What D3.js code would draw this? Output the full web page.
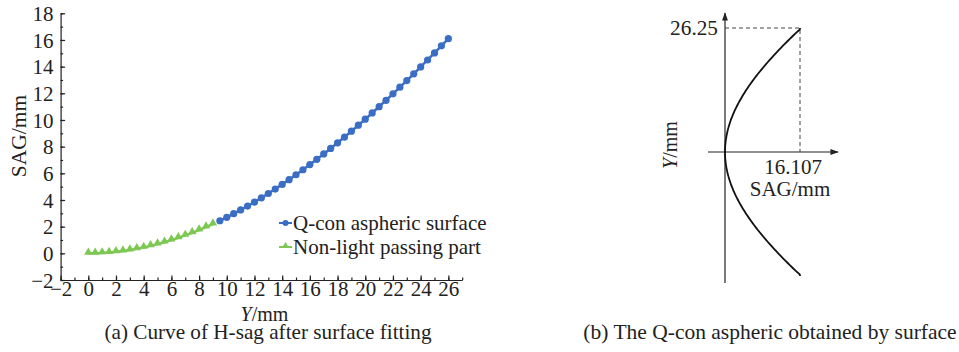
<!DOCTYPE html>
<html>
<head>
<meta charset="utf-8">
<script src="https://cdn.jsdelivr.net/npm/d3@7"></script>
<style>
  body { margin: 0; background: #fff; }
  svg { display: block; }
  text { font-family: "Liberation Serif", "Times New Roman", serif; fill: #222; }
</style>
</head>
<body>
<svg id="canvas" width="959" height="352"></svg>
<script>
// non-light passing part (green triangles), Y in mm
const greenY = [0, 0.5, 1, 1.5, 2, 2.5, 3, 3.5, 4, 4.5, 5, 5.5, 6, 6.5, 7, 7.5, 8, 8.5, 9];
const greenSag = [0, 0.007, 0.028, 0.062, 0.111, 0.173, 0.249, 0.339, 0.442, 0.559, 0.690, 0.833,
  0.990, 1.160, 1.342, 1.538, 1.746, 1.967, 2.200];

// Q-con aspheric surface (blue dots)
const blueY = [9.5, 10, 10.5, 11, 11.5, 12, 12.5, 13, 13.5, 14, 14.5, 15, 15.5, 16, 16.5, 17, 17.5,
  18, 18.5, 19, 19.5, 20, 20.5, 21, 21.5, 22, 22.5, 23, 23.5, 24, 24.5, 25, 25.5, 26];
const blueSag = [2.445, 2.702, 2.971, 3.252, 3.544, 3.847, 4.161, 4.486, 4.822, 5.168, 5.525, 5.891,
  6.267, 6.653, 7.049, 7.453, 7.867, 8.289, 8.720, 9.160, 9.607, 10.063, 10.527, 10.998, 11.477,
  11.964, 12.457, 12.957, 13.464, 13.978, 14.499, 15.025, 15.558, 16.097];

const xTicks = [-2, 0, 2, 4, 6, 8, 10, 12, 14, 16, 18, 20, 22, 24, 26];
const yTicks = [-2, 0, 2, 4, 6, 8, 10, 12, 14, 16, 18];

// edge of the surface, shown in panel (b)
const edgeY = 26.25;
const edgeSag = 16.107;

const blue = '#3a6ec4';
const green = '#7cc852';
const ink = '#222';

let canvas = d3.select('#canvas');

// ---------- panel (a) ----------
let x = d3.scaleLinear().domain([-2, 27]).range([60.6, 462.2]);
let y = d3.scaleLinear().domain([-2, 18]).range([280, 13.3]);

let gA = canvas.append('g');

// minor ticks every 1 mm
gA.append('g')
  .attr('transform', `translate(0,${y(-2)})`)
  .call(d3.axisBottom(x).tickValues(d3.range(-2, 28, 1)).tickSizeInner(-2.5).tickSizeOuter(0).tickFormat(''))
  .call(g => g.select('.domain').remove());
gA.append('g')
  .attr('transform', `translate(${x(-2)},0)`)
  .call(d3.axisLeft(y).tickValues(d3.range(-2, 19, 1)).tickSizeInner(-2.5).tickSizeOuter(0).tickFormat(''))
  .call(g => g.select('.domain').remove());

let xAxis = gA.append('g')
  .attr('transform', `translate(0,${y(-2)})`)
  .call(d3.axisBottom(x).tickValues(xTicks).tickSizeInner(-4.5).tickSizeOuter(0).tickPadding(2));
let yAxis = gA.append('g')
  .attr('transform', `translate(${x(-2)},0)`)
  .call(d3.axisLeft(y).tickValues(yTicks).tickSizeInner(-4.5).tickSizeOuter(0).tickPadding(7));

gA.selectAll('.tick line, .domain').attr('stroke', ink).attr('stroke-width', 1.2);
xAxis.selectAll('text').attr('font-size', 21).attr('font-family', null).attr('dy', '0.68em');
yAxis.selectAll('text').attr('font-size', 21).attr('font-family', null).attr('dy', '0.34em');

// axis titles
gA.append('text')
  .attr('transform', 'translate(26,136) rotate(-90)')
  .attr('text-anchor', 'middle')
  .attr('font-size', 21.5)
  .text('SAG/mm');
let xt = gA.append('text')
  .attr('x', 264.5).attr('y', 321)
  .attr('text-anchor', 'middle')
  .attr('font-size', 20);
xt.append('tspan').attr('font-style', 'italic').text('Y');
xt.append('tspan').text('/mm');

// series
let line = d3.line().x(d => x(d[0])).y(d => y(d[1]));
let greenPts = greenY.map((v, i) => [v, greenSag[i]]);
let bluePts = blueY.map((v, i) => [v, blueSag[i]]);

gA.append('path').datum(greenPts)
  .attr('d', line).attr('fill', 'none').attr('stroke', green).attr('stroke-width', 2.5);
gA.append('path').datum(bluePts)
  .attr('d', line).attr('fill', 'none').attr('stroke', blue).attr('stroke-width', 2.5);

let tri = d3.symbol().type(d3.symbolTriangle).size(30);
gA.selectAll('.gm').data(greenPts).enter().append('path')
  .attr('class', 'gm')
  .attr('d', tri)
  .attr('transform', d => `translate(${x(d[0])},${y(d[1]) - 1})`)
  .attr('fill', green);
gA.selectAll('.bm').data(bluePts).enter().append('circle')
  .attr('class', 'bm')
  .attr('cx', d => x(d[0])).attr('cy', d => y(d[1])).attr('r', 3.6)
  .attr('fill', blue);

// legend
let legend = gA.append('g').attr('transform', 'translate(279,0)');
legend.append('line').attr('x1', 0).attr('x2', 13).attr('y1', 223).attr('y2', 223)
  .attr('stroke', blue).attr('stroke-width', 2);
legend.append('circle').attr('cx', 6.5).attr('cy', 223).attr('r', 3).attr('fill', blue);
legend.append('text').attr('x', 14).attr('y', 230).attr('font-size', 21).text('Q-con aspheric surface');
legend.append('line').attr('x1', 0).attr('x2', 13).attr('y1', 247).attr('y2', 247)
  .attr('stroke', green).attr('stroke-width', 2);
legend.append('path').attr('d', d3.symbol().type(d3.symbolTriangle).size(22))
  .attr('transform', 'translate(6.5,246)').attr('fill', green);
legend.append('text').attr('x', 14).attr('y', 254).attr('font-size', 21).text('Non-light passing part');

gA.append('text')
  .attr('x', 268).attr('y', 339)
  .attr('text-anchor', 'middle')
  .attr('font-size', 21.2)
  .text('(a) Curve of H-sag after surface fitting');

// ---------- panel (b) ----------
let sx = d3.scaleLinear().domain([0, edgeSag]).range([725, 800]);
let sy = d3.scaleLinear().domain([0, edgeY]).range([152, 28]);

let gB = canvas.append('g');

canvas.append('defs').append('marker')
  .attr('id', 'arrow')
  .attr('viewBox', '0 0 10 10')
  .attr('refX', 9).attr('refY', 5)
  .attr('markerWidth', 7).attr('markerHeight', 7)
  .attr('orient', 'auto')
  .append('path').attr('d', 'M0,1.5 L10,5 L0,8.5 Z').attr('fill', ink);

gB.append('line')
  .attr('x1', sx(0)).attr('x2', sx(0)).attr('y1', 283).attr('y2', 13)
  .attr('stroke', ink).attr('stroke-width', 1.2).attr('marker-end', 'url(#arrow)');
gB.append('line')
  .attr('x1', 708).attr('x2', 838).attr('y1', sy(0)).attr('y2', sy(0))
  .attr('stroke', ink).attr('stroke-width', 1.2).attr('marker-end', 'url(#arrow)');

// dashed guides to the edge point
gB.append('path')
  .attr('d', `M${sx(0)},${sy(edgeY)} H${sx(edgeSag)} V${sy(0)}`)
  .attr('fill', 'none').attr('stroke', '#444').attr('stroke-width', 1)
  .attr('stroke-dasharray', '4,3');

// profile: mirror the fitted points about Y = 0
let half = greenPts.concat(bluePts).concat([[edgeY, edgeSag]]);
let profile = half.slice().reverse().map(d => [-d[0], d[1]]).concat(half.slice(1));
gB.append('path').datum(profile)
  .attr('d', d3.line().x(d => sx(d[1])).y(d => sy(d[0])).curve(d3.curveMonotoneY))
  .attr('fill', 'none').attr('stroke', '#111').attr('stroke-width', 1.8);

gB.append('text').attr('x', 718).attr('y', 35).attr('text-anchor', 'end')
  .attr('font-size', 21.3).text(d3.format('.2f')(edgeY));
gB.append('text').attr('x', 793).attr('y', 174).attr('text-anchor', 'middle')
  .attr('font-size', 21).text(d3.format('.3f')(edgeSag));
gB.append('text').attr('x', 790).attr('y', 196).attr('text-anchor', 'middle')
  .attr('font-size', 21).text('SAG/mm');
let yt = gB.append('text')
  .attr('transform', 'translate(677,145) rotate(-90)')
  .attr('text-anchor', 'middle')
  .attr('font-size', 20);
yt.append('tspan').attr('font-style', 'italic').text('Y');
yt.append('tspan').text('/mm');

gB.append('text')
  .attr('x', 770).attr('y', 339)
  .attr('text-anchor', 'middle')
  .attr('font-size', 21.5)
  .text('(b) The Q-con aspheric obtained by surface');
</script>
</body>
</html>
